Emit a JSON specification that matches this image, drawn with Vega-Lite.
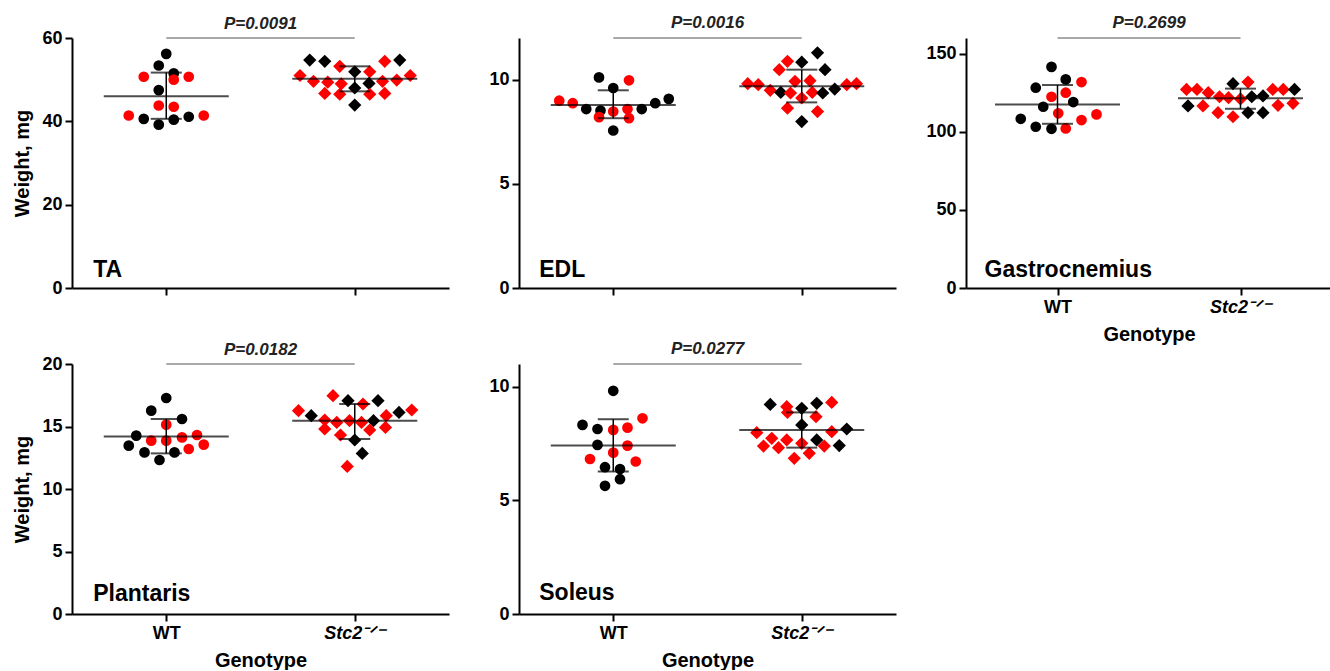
{
"$schema": "https://vega.github.io/schema/vega-lite/v6.json",
"padding": {"left": 12, "top": 13, "right": 0, "bottom": 0},
"background": "white",
"config": {
  "view": {"stroke": null},
  "font": "Liberation Sans",
  "axis": {"domainColor": "black", "domainWidth": 2, "tickColor": "black", "tickWidth": 2, "tickSize": 7, "labelFont": "Liberation Sans", "labelFontSize": 18, "labelFontWeight": "bold", "labelColor": "black", "labelPadding": 3, "titleFont": "Liberation Sans", "titleFontSize": 20, "titleFontWeight": "bold", "titleColor": "black", "grid": false, "labelAngle": 0},
  "title": {"font": "Liberation Sans", "fontSize": 17, "fontWeight": "bold", "fontStyle": "italic", "color": "#222222", "anchor": "middle", "frame": "group", "baseline": "alphabetic", "offset": 4}
},
"datasets": {
 "pts": [
  {"m":"TA","g":"WT","sex":"M","w":56.2,"col":0},
  {"m":"TA","g":"WT","sex":"M","w":53.4,"col":-1},
  {"m":"TA","g":"WT","sex":"F","w":50.7,"col":-3},
  {"m":"TA","g":"WT","sex":"M","w":51.5,"col":1},
  {"m":"TA","g":"WT","sex":"F","w":50.0,"col":1},
  {"m":"TA","g":"WT","sex":"F","w":50.7,"col":3},
  {"m":"TA","g":"WT","sex":"M","w":47.5,"col":-1},
  {"m":"TA","g":"WT","sex":"F","w":43.8,"col":-1},
  {"m":"TA","g":"WT","sex":"F","w":43.5,"col":1},
  {"m":"TA","g":"WT","sex":"F","w":41.4,"col":-5},
  {"m":"TA","g":"WT","sex":"F","w":41.4,"col":5},
  {"m":"TA","g":"WT","sex":"M","w":40.6,"col":-3},
  {"m":"TA","g":"WT","sex":"M","w":40.4,"col":1},
  {"m":"TA","g":"WT","sex":"M","w":41.1,"col":3},
  {"m":"TA","g":"WT","sex":"M","w":39.2,"col":-1},
  {"m":"TA","g":"Stc2","sex":"M","w":54.7,"col":-6},
  {"m":"TA","g":"Stc2","sex":"M","w":54.4,"col":-4},
  {"m":"TA","g":"Stc2","sex":"F","w":54.4,"col":4},
  {"m":"TA","g":"Stc2","sex":"M","w":54.7,"col":6},
  {"m":"TA","g":"Stc2","sex":"F","w":53.2,"col":-2},
  {"m":"TA","g":"Stc2","sex":"M","w":51.9,"col":0},
  {"m":"TA","g":"Stc2","sex":"F","w":51.9,"col":2},
  {"m":"TA","g":"Stc2","sex":"F","w":51.0,"col":-7.3},
  {"m":"TA","g":"Stc2","sex":"F","w":51.0,"col":7.4},
  {"m":"TA","g":"Stc2","sex":"F","w":49.6,"col":-5.5},
  {"m":"TA","g":"Stc2","sex":"F","w":49.4,"col":-3.6},
  {"m":"TA","g":"Stc2","sex":"F","w":49.0,"col":-1.8},
  {"m":"TA","g":"Stc2","sex":"M","w":49.1,"col":1.9},
  {"m":"TA","g":"Stc2","sex":"F","w":49.6,"col":3.7},
  {"m":"TA","g":"Stc2","sex":"F","w":49.9,"col":5.6},
  {"m":"TA","g":"Stc2","sex":"M","w":48.0,"col":0},
  {"m":"TA","g":"Stc2","sex":"F","w":46.7,"col":-4},
  {"m":"TA","g":"Stc2","sex":"F","w":46.5,"col":-2},
  {"m":"TA","g":"Stc2","sex":"F","w":46.5,"col":2},
  {"m":"TA","g":"Stc2","sex":"F","w":46.7,"col":4},
  {"m":"TA","g":"Stc2","sex":"M","w":43.9,"col":0},

  {"m":"EDL","g":"WT","sex":"M","w":10.11,"col":-1.9},
  {"m":"EDL","g":"WT","sex":"F","w":9.97,"col":2.1},
  {"m":"EDL","g":"WT","sex":"M","w":9.60,"col":0},
  {"m":"EDL","g":"WT","sex":"F","w":8.99,"col":-7.2},
  {"m":"EDL","g":"WT","sex":"F","w":8.87,"col":-5.4},
  {"m":"EDL","g":"WT","sex":"M","w":9.08,"col":7.4},
  {"m":"EDL","g":"WT","sex":"M","w":8.87,"col":5.6},
  {"m":"EDL","g":"WT","sex":"M","w":8.59,"col":-3.6},
  {"m":"EDL","g":"WT","sex":"M","w":8.52,"col":-1.7},
  {"m":"EDL","g":"WT","sex":"F","w":8.47,"col":0},
  {"m":"EDL","g":"WT","sex":"F","w":8.59,"col":1.9},
  {"m":"EDL","g":"WT","sex":"M","w":8.59,"col":3.8},
  {"m":"EDL","g":"WT","sex":"F","w":8.20,"col":-1.9},
  {"m":"EDL","g":"WT","sex":"F","w":8.15,"col":2.1},
  {"m":"EDL","g":"WT","sex":"M","w":7.56,"col":0},
  {"m":"EDL","g":"Stc2","sex":"M","w":11.29,"col":2.1},
  {"m":"EDL","g":"Stc2","sex":"F","w":10.88,"col":-1.9},
  {"m":"EDL","g":"Stc2","sex":"M","w":10.84,"col":0},
  {"m":"EDL","g":"Stc2","sex":"F","w":10.48,"col":-3},
  {"m":"EDL","g":"Stc2","sex":"M","w":10.48,"col":3.1},
  {"m":"EDL","g":"Stc2","sex":"F","w":9.92,"col":-0.9},
  {"m":"EDL","g":"Stc2","sex":"F","w":9.95,"col":1.1},
  {"m":"EDL","g":"Stc2","sex":"F","w":9.81,"col":-7.2},
  {"m":"EDL","g":"Stc2","sex":"F","w":9.76,"col":-5.8},
  {"m":"EDL","g":"Stc2","sex":"F","w":9.49,"col":-4.2},
  {"m":"EDL","g":"Stc2","sex":"M","w":9.39,"col":-2.8},
  {"m":"EDL","g":"Stc2","sex":"F","w":9.36,"col":-1.5},
  {"m":"EDL","g":"Stc2","sex":"F","w":9.12,"col":0},
  {"m":"EDL","g":"Stc2","sex":"F","w":9.39,"col":1.4},
  {"m":"EDL","g":"Stc2","sex":"M","w":9.36,"col":2.8},
  {"m":"EDL","g":"Stc2","sex":"M","w":9.55,"col":4.4},
  {"m":"EDL","g":"Stc2","sex":"F","w":9.76,"col":6},
  {"m":"EDL","g":"Stc2","sex":"F","w":9.81,"col":7.3},
  {"m":"EDL","g":"Stc2","sex":"F","w":8.63,"col":-1.9},
  {"m":"EDL","g":"Stc2","sex":"F","w":8.47,"col":2.1},
  {"m":"EDL","g":"Stc2","sex":"M","w":7.99,"col":0},

  {"m":"Gas","g":"WT","sex":"M","w":141.5,"col":-0.8},
  {"m":"Gas","g":"WT","sex":"M","w":133.5,"col":1.1},
  {"m":"Gas","g":"WT","sex":"F","w":131.8,"col":3.2},
  {"m":"Gas","g":"WT","sex":"M","w":128.2,"col":-2.9},
  {"m":"Gas","g":"WT","sex":"F","w":125.0,"col":1.1},
  {"m":"Gas","g":"WT","sex":"F","w":122.4,"col":-0.8},
  {"m":"Gas","g":"WT","sex":"M","w":116.0,"col":-1.9},
  {"m":"Gas","g":"WT","sex":"M","w":119.0,"col":2.1},
  {"m":"Gas","g":"WT","sex":"F","w":111.8,"col":0.1},
  {"m":"Gas","g":"WT","sex":"F","w":111.1,"col":5.2},
  {"m":"Gas","g":"WT","sex":"M","w":108.3,"col":-4.9},
  {"m":"Gas","g":"WT","sex":"F","w":107.5,"col":3.2},
  {"m":"Gas","g":"WT","sex":"M","w":103.2,"col":-2.9},
  {"m":"Gas","g":"WT","sex":"M","w":101.9,"col":-0.8},
  {"m":"Gas","g":"WT","sex":"F","w":102.1,"col":1.1},
  {"m":"Gas","g":"Stc2","sex":"M","w":130.8,"col":-1},
  {"m":"Gas","g":"Stc2","sex":"F","w":131.8,"col":1},
  {"m":"Gas","g":"Stc2","sex":"F","w":127.1,"col":-7.2},
  {"m":"Gas","g":"Stc2","sex":"F","w":127.1,"col":-5.8},
  {"m":"Gas","g":"Stc2","sex":"F","w":125.0,"col":-4.3},
  {"m":"Gas","g":"Stc2","sex":"F","w":122.4,"col":-2.8},
  {"m":"Gas","g":"Stc2","sex":"F","w":121.8,"col":-1.6},
  {"m":"Gas","g":"Stc2","sex":"F","w":121.0,"col":0},
  {"m":"Gas","g":"Stc2","sex":"M","w":122.4,"col":1.5},
  {"m":"Gas","g":"Stc2","sex":"M","w":122.9,"col":3},
  {"m":"Gas","g":"Stc2","sex":"F","w":127.1,"col":4.3},
  {"m":"Gas","g":"Stc2","sex":"F","w":127.1,"col":5.7},
  {"m":"Gas","g":"Stc2","sex":"M","w":127.1,"col":7.2},
  {"m":"Gas","g":"Stc2","sex":"M","w":116.5,"col":-7},
  {"m":"Gas","g":"Stc2","sex":"F","w":116.5,"col":-5},
  {"m":"Gas","g":"Stc2","sex":"F","w":112.2,"col":-3},
  {"m":"Gas","g":"Stc2","sex":"F","w":109.6,"col":-1},
  {"m":"Gas","g":"Stc2","sex":"M","w":112.2,"col":1},
  {"m":"Gas","g":"Stc2","sex":"M","w":112.2,"col":3},
  {"m":"Gas","g":"Stc2","sex":"F","w":116.9,"col":5},
  {"m":"Gas","g":"Stc2","sex":"F","w":118.2,"col":7},

  {"m":"PL","g":"WT","sex":"M","w":17.28,"col":0},
  {"m":"PL","g":"WT","sex":"M","w":16.27,"col":-2},
  {"m":"PL","g":"WT","sex":"M","w":15.6,"col":2.1},
  {"m":"PL","g":"WT","sex":"F","w":15.15,"col":0},
  {"m":"PL","g":"WT","sex":"M","w":14.27,"col":-4},
  {"m":"PL","g":"WT","sex":"F","w":13.87,"col":-2},
  {"m":"PL","g":"WT","sex":"F","w":13.87,"col":0},
  {"m":"PL","g":"WT","sex":"F","w":14.13,"col":2.1},
  {"m":"PL","g":"WT","sex":"F","w":14.32,"col":4.1},
  {"m":"PL","g":"WT","sex":"M","w":13.47,"col":-5},
  {"m":"PL","g":"WT","sex":"F","w":13.55,"col":5},
  {"m":"PL","g":"WT","sex":"F","w":13.2,"col":3},
  {"m":"PL","g":"WT","sex":"M","w":12.93,"col":-2.9},
  {"m":"PL","g":"WT","sex":"M","w":12.93,"col":1.1},
  {"m":"PL","g":"WT","sex":"M","w":12.32,"col":-0.9},
  {"m":"PL","g":"Stc2","sex":"F","w":17.47,"col":-2.9},
  {"m":"PL","g":"Stc2","sex":"M","w":17.07,"col":-0.9},
  {"m":"PL","g":"Stc2","sex":"M","w":17.07,"col":3.1},
  {"m":"PL","g":"Stc2","sex":"F","w":16.8,"col":1.1},
  {"m":"PL","g":"Stc2","sex":"F","w":16.27,"col":-7.5},
  {"m":"PL","g":"Stc2","sex":"F","w":16.32,"col":7.6},
  {"m":"PL","g":"Stc2","sex":"M","w":15.87,"col":-5.8},
  {"m":"PL","g":"Stc2","sex":"M","w":16.13,"col":5.9},
  {"m":"PL","g":"Stc2","sex":"F","w":15.87,"col":4.2},
  {"m":"PL","g":"Stc2","sex":"F","w":15.52,"col":-4},
  {"m":"PL","g":"Stc2","sex":"F","w":15.33,"col":-2.4},
  {"m":"PL","g":"Stc2","sex":"F","w":15.47,"col":-0.7},
  {"m":"PL","g":"Stc2","sex":"F","w":15.33,"col":0.9},
  {"m":"PL","g":"Stc2","sex":"M","w":15.47,"col":2.5},
  {"m":"PL","g":"Stc2","sex":"F","w":14.8,"col":-4},
  {"m":"PL","g":"Stc2","sex":"F","w":14.32,"col":-1.9},
  {"m":"PL","g":"Stc2","sex":"F","w":14.72,"col":2},
  {"m":"PL","g":"Stc2","sex":"F","w":14.93,"col":4.1},
  {"m":"PL","g":"Stc2","sex":"M","w":13.92,"col":0},
  {"m":"PL","g":"Stc2","sex":"M","w":12.85,"col":1},
  {"m":"PL","g":"Stc2","sex":"F","w":11.81,"col":-1},

  {"m":"SOL","g":"WT","sex":"M","w":9.82,"col":0},
  {"m":"SOL","g":"WT","sex":"M","w":8.32,"col":-4.1},
  {"m":"SOL","g":"WT","sex":"F","w":8.61,"col":3.9},
  {"m":"SOL","g":"WT","sex":"M","w":8.14,"col":-2.1},
  {"m":"SOL","g":"WT","sex":"F","w":8.10,"col":0},
  {"m":"SOL","g":"WT","sex":"F","w":8.2,"col":1.9},
  {"m":"SOL","g":"WT","sex":"M","w":7.44,"col":-2.1},
  {"m":"SOL","g":"WT","sex":"F","w":7.41,"col":1.9},
  {"m":"SOL","g":"WT","sex":"F","w":7.10,"col":0},
  {"m":"SOL","g":"WT","sex":"F","w":6.82,"col":-3.1},
  {"m":"SOL","g":"WT","sex":"F","w":6.71,"col":3},
  {"m":"SOL","g":"WT","sex":"M","w":6.46,"col":-1.1},
  {"m":"SOL","g":"WT","sex":"M","w":6.38,"col":0.9},
  {"m":"SOL","g":"WT","sex":"M","w":5.93,"col":0.9},
  {"m":"SOL","g":"WT","sex":"M","w":5.64,"col":-1.1},
  {"m":"SOL","g":"Stc2","sex":"M","w":9.22,"col":-4.2},
  {"m":"SOL","g":"Stc2","sex":"F","w":9.12,"col":-2},
  {"m":"SOL","g":"Stc2","sex":"M","w":9.05,"col":0},
  {"m":"SOL","g":"Stc2","sex":"M","w":9.27,"col":2},
  {"m":"SOL","g":"Stc2","sex":"F","w":9.31,"col":4},
  {"m":"SOL","g":"Stc2","sex":"F","w":8.87,"col":-1.9},
  {"m":"SOL","g":"Stc2","sex":"F","w":8.68,"col":1.9},
  {"m":"SOL","g":"Stc2","sex":"M","w":8.32,"col":0},
  {"m":"SOL","g":"Stc2","sex":"F","w":7.98,"col":-6},
  {"m":"SOL","g":"Stc2","sex":"F","w":8.02,"col":4},
  {"m":"SOL","g":"Stc2","sex":"M","w":8.14,"col":6},
  {"m":"SOL","g":"Stc2","sex":"F","w":7.73,"col":-4},
  {"m":"SOL","g":"Stc2","sex":"F","w":7.66,"col":-2},
  {"m":"SOL","g":"Stc2","sex":"F","w":7.51,"col":0},
  {"m":"SOL","g":"Stc2","sex":"M","w":7.66,"col":2},
  {"m":"SOL","g":"Stc2","sex":"F","w":7.39,"col":-5.1},
  {"m":"SOL","g":"Stc2","sex":"F","w":7.32,"col":-3.1},
  {"m":"SOL","g":"Stc2","sex":"F","w":7.39,"col":3},
  {"m":"SOL","g":"Stc2","sex":"M","w":7.41,"col":5},
  {"m":"SOL","g":"Stc2","sex":"F","w":7.07,"col":1},
  {"m":"SOL","g":"Stc2","sex":"F","w":6.85,"col":-1}
 ],
 "sum": [
  {"m":"TA","g":"WT","mean":46.0,"lo":40.6,"hi":51.7},
  {"m":"TA","g":"Stc2","mean":50.2,"lo":47.2,"hi":53.2},
  {"m":"EDL","g":"WT","mean":8.79,"lo":8.15,"hi":9.49},
  {"m":"EDL","g":"Stc2","mean":9.68,"lo":8.91,"hi":10.48},
  {"m":"Gas","g":"WT","mean":117.5,"lo":105.1,"hi":129.9},
  {"m":"Gas","g":"Stc2","mean":121.4,"lo":114.7,"hi":127.6},
  {"m":"PL","g":"WT","mean":14.21,"lo":12.85,"hi":15.6},
  {"m":"PL","g":"Stc2","mean":15.47,"lo":14.0,"hi":16.8},
  {"m":"SOL","g":"WT","mean":7.41,"lo":6.27,"hi":8.57},
  {"m":"SOL","g":"Stc2","mean":8.10,"lo":7.32,"hi":8.87}
 ],
 "panels": [
  {"m":"TA","label":"TA"},
  {"m":"EDL","label":"EDL"},
  {"m":"Gas","label":"Gastrocnemius"},
  {"m":"PL","label":"Plantaris"},
  {"m":"SOL","label":"Soleus"}
 ]
},
"bounds": "flush",
"columns": 3,
"spacing": {"row": 76, "column": 70},
"concat": [
  {"width": 377, "height": 250, "title": {"text": "P=0.0091", "offset": -4},
   "layer": [
    {"data": {"name": "pts"}, "transform": [{"filter": "datum.m == 'TA'"}],
     "mark": {"type": "point", "filled": true, "opacity": 1, "strokeWidth": 0},
     "encoding": {
      "x": {"field": "g", "type": "nominal", "scale": {"type": "point", "domain": ["WT", "Stc2"], "padding": 0.5}, "axis": {"labels": false, "title": null}},
      "xOffset": {"field": "col", "type": "quantitative", "scale": {"domain": [-8, 8], "range": [-60, 60]}},
      "y": {"field": "w", "type": "quantitative", "scale": {"domain": [0, 60], "nice": false}, "axis": {"values": [0, 20, 40, 60], "title": "Weight, mg", "minExtent": 32, "maxExtent": 32, "titlePadding": 8}},
      "color": {"field": "sex", "type": "nominal", "scale": {"domain": ["F", "M"], "range": ["#ff0000", "#000000"]}, "legend": null},
      "shape": {"field": "g", "type": "nominal", "scale": {"domain": ["WT", "Stc2"], "range": ["circle", "diamond"]}, "legend": null},
      "size": {"field": "g", "type": "ordinal", "scale": {"domain": ["WT", "Stc2"], "range": [115, 175]}, "legend": null}
     }},
    {"data": {"name": "sum"}, "transform": [{"filter": "datum.m == 'TA'"}], "mark": {"type": "rule", "color": "black", "strokeWidth": 1.5},
     "encoding": {"x": {"field": "g", "type": "nominal"}, "y": {"field": "lo", "type": "quantitative"}, "y2": {"field": "hi"}}},
    {"data": {"name": "sum"}, "transform": [{"filter": "datum.m == 'TA'"}], "mark": {"type": "tick", "color": "black", "size": 31, "thickness": 2},
     "encoding": {"x": {"field": "g", "type": "nominal"}, "y": {"field": "lo", "type": "quantitative"}}},
    {"data": {"name": "sum"}, "transform": [{"filter": "datum.m == 'TA'"}], "mark": {"type": "tick", "color": "black", "size": 31, "thickness": 2},
     "encoding": {"x": {"field": "g", "type": "nominal"}, "y": {"field": "hi", "type": "quantitative"}}},
    {"data": {"name": "sum"}, "transform": [{"filter": "datum.m == 'TA'"}], "mark": {"type": "tick", "color": "black", "size": 125, "thickness": 2},
     "encoding": {"x": {"field": "g", "type": "nominal"}, "y": {"field": "mean", "type": "quantitative"}}},
    {"data": {"name": "sum"}, "transform": [{"filter": "datum.m == 'TA'"}], "mark": {"type": "line", "color": "#555555", "strokeWidth": 1.2},
     "encoding": {"x": {"field": "g", "type": "nominal"}, "y": {"datum": 60}}},
    {"data": {"name": "panels"}, "transform": [{"filter": "datum.m == 'TA'"}], "mark": {"type": "text", "align": "left", "baseline": "alphabetic", "dx": -73, "dy": -11, "fontSize": 23, "fontWeight": "bold", "color": "black"},
     "encoding": {"x": {"datum": "WT"}, "y": {"datum": 0}, "text": {"field": "label"}}}
   ]},
  {"width": 377, "height": 250, "title": {"text": "P=0.0016", "offset": 4},
   "layer": [
    {"data": {"name": "pts"}, "transform": [{"filter": "datum.m == 'EDL'"}],
     "mark": {"type": "point", "filled": true, "opacity": 1, "strokeWidth": 0},
     "encoding": {
      "x": {"field": "g", "type": "nominal", "scale": {"type": "point", "domain": ["WT", "Stc2"], "padding": 0.5}, "axis": {"labels": false, "title": null}},
      "xOffset": {"field": "col", "type": "quantitative", "scale": {"domain": [-8, 8], "range": [-60, 60]}},
      "y": {"field": "w", "type": "quantitative", "scale": {"domain": [0, 12], "nice": false}, "axis": {"values": [0, 5, 10], "title": null}},
      "color": {"field": "sex", "type": "nominal", "scale": {"domain": ["F", "M"], "range": ["#ff0000", "#000000"]}, "legend": null},
      "shape": {"field": "g", "type": "nominal", "scale": {"domain": ["WT", "Stc2"], "range": ["circle", "diamond"]}, "legend": null},
      "size": {"field": "g", "type": "ordinal", "scale": {"domain": ["WT", "Stc2"], "range": [115, 175]}, "legend": null}
     }},
    {"data": {"name": "sum"}, "transform": [{"filter": "datum.m == 'EDL'"}], "mark": {"type": "rule", "color": "black", "strokeWidth": 1.5},
     "encoding": {"x": {"field": "g", "type": "nominal"}, "y": {"field": "lo", "type": "quantitative"}, "y2": {"field": "hi"}}},
    {"data": {"name": "sum"}, "transform": [{"filter": "datum.m == 'EDL'"}], "mark": {"type": "tick", "color": "black", "size": 31, "thickness": 2},
     "encoding": {"x": {"field": "g", "type": "nominal"}, "y": {"field": "lo", "type": "quantitative"}}},
    {"data": {"name": "sum"}, "transform": [{"filter": "datum.m == 'EDL'"}], "mark": {"type": "tick", "color": "black", "size": 31, "thickness": 2},
     "encoding": {"x": {"field": "g", "type": "nominal"}, "y": {"field": "hi", "type": "quantitative"}}},
    {"data": {"name": "sum"}, "transform": [{"filter": "datum.m == 'EDL'"}], "mark": {"type": "tick", "color": "black", "size": 125, "thickness": 2},
     "encoding": {"x": {"field": "g", "type": "nominal"}, "y": {"field": "mean", "type": "quantitative"}}},
    {"data": {"name": "sum"}, "transform": [{"filter": "datum.m == 'EDL'"}], "mark": {"type": "line", "color": "#555555", "strokeWidth": 1.2},
     "encoding": {"x": {"field": "g", "type": "nominal"}, "y": {"datum": 12}}},
    {"data": {"name": "panels"}, "transform": [{"filter": "datum.m == 'EDL'"}], "mark": {"type": "text", "align": "left", "baseline": "alphabetic", "dx": -74, "dy": -11, "fontSize": 23, "fontWeight": "bold", "color": "black"},
     "encoding": {"x": {"datum": "WT"}, "y": {"datum": 0}, "text": {"field": "label"}}}
   ]},
  {"width": 366, "height": 250, "title": {"text": "P=0.2699", "offset": 4},
   "layer": [
    {"data": {"name": "pts"}, "transform": [{"filter": "datum.m == 'Gas'"}],
     "mark": {"type": "point", "filled": true, "opacity": 1, "strokeWidth": 0},
     "encoding": {
      "x": {"field": "g", "type": "nominal", "scale": {"type": "point", "domain": ["WT", "Stc2"], "padding": 0.5}, "axis": {"title": "Genotype", "titleFontSize": 20, "titlePadding": 8, "labelExpr": "datum.value == 'WT' ? 'WT' : 'Stc2⁻ᐟ⁻'", "labelFontStyle": {"condition": {"test": "datum.value == 'Stc2'", "value": "italic"}, "value": "normal"}}},
      "xOffset": {"field": "col", "type": "quantitative", "scale": {"domain": [-8, 8], "range": [-60, 60]}},
      "y": {"field": "w", "type": "quantitative", "scale": {"domain": [0, 160], "nice": false}, "axis": {"values": [0, 50, 100, 150], "title": null}},
      "color": {"field": "sex", "type": "nominal", "scale": {"domain": ["F", "M"], "range": ["#ff0000", "#000000"]}, "legend": null},
      "shape": {"field": "g", "type": "nominal", "scale": {"domain": ["WT", "Stc2"], "range": ["circle", "diamond"]}, "legend": null},
      "size": {"field": "g", "type": "ordinal", "scale": {"domain": ["WT", "Stc2"], "range": [115, 175]}, "legend": null}
     }},
    {"data": {"name": "sum"}, "transform": [{"filter": "datum.m == 'Gas'"}], "mark": {"type": "rule", "color": "black", "strokeWidth": 1.5},
     "encoding": {"x": {"field": "g", "type": "nominal"}, "y": {"field": "lo", "type": "quantitative"}, "y2": {"field": "hi"}}},
    {"data": {"name": "sum"}, "transform": [{"filter": "datum.m == 'Gas'"}], "mark": {"type": "tick", "color": "black", "size": 31, "thickness": 2},
     "encoding": {"x": {"field": "g", "type": "nominal"}, "y": {"field": "lo", "type": "quantitative"}}},
    {"data": {"name": "sum"}, "transform": [{"filter": "datum.m == 'Gas'"}], "mark": {"type": "tick", "color": "black", "size": 31, "thickness": 2},
     "encoding": {"x": {"field": "g", "type": "nominal"}, "y": {"field": "hi", "type": "quantitative"}}},
    {"data": {"name": "sum"}, "transform": [{"filter": "datum.m == 'Gas'"}], "mark": {"type": "tick", "color": "black", "size": 125, "thickness": 2},
     "encoding": {"x": {"field": "g", "type": "nominal"}, "y": {"field": "mean", "type": "quantitative"}}},
    {"data": {"name": "sum"}, "transform": [{"filter": "datum.m == 'Gas'"}], "mark": {"type": "line", "color": "#555555", "strokeWidth": 1.2},
     "encoding": {"x": {"field": "g", "type": "nominal"}, "y": {"datum": 160}}},
    {"data": {"name": "panels"}, "transform": [{"filter": "datum.m == 'Gas'"}], "mark": {"type": "text", "align": "left", "baseline": "alphabetic", "dx": -73, "dy": -11, "fontSize": 23, "fontWeight": "bold", "color": "black"},
     "encoding": {"x": {"datum": "WT"}, "y": {"datum": 0}, "text": {"field": "label"}}}
   ]},
  {"width": 377, "height": 250, "title": {"text": "P=0.0182", "offset": -4},
   "layer": [
    {"data": {"name": "pts"}, "transform": [{"filter": "datum.m == 'PL'"}],
     "mark": {"type": "point", "filled": true, "opacity": 1, "strokeWidth": 0},
     "encoding": {
      "x": {"field": "g", "type": "nominal", "scale": {"type": "point", "domain": ["WT", "Stc2"], "padding": 0.5}, "axis": {"title": "Genotype", "titleFontSize": 20, "titlePadding": 8, "labelExpr": "datum.value == 'WT' ? 'WT' : 'Stc2⁻ᐟ⁻'", "labelFontStyle": {"condition": {"test": "datum.value == 'Stc2'", "value": "italic"}, "value": "normal"}}},
      "xOffset": {"field": "col", "type": "quantitative", "scale": {"domain": [-8, 8], "range": [-60, 60]}},
      "y": {"field": "w", "type": "quantitative", "scale": {"domain": [0, 20], "nice": false}, "axis": {"values": [0, 5, 10, 15, 20], "title": "Weight, mg", "minExtent": 32, "maxExtent": 32, "titlePadding": 8}},
      "color": {"field": "sex", "type": "nominal", "scale": {"domain": ["F", "M"], "range": ["#ff0000", "#000000"]}, "legend": null},
      "shape": {"field": "g", "type": "nominal", "scale": {"domain": ["WT", "Stc2"], "range": ["circle", "diamond"]}, "legend": null},
      "size": {"field": "g", "type": "ordinal", "scale": {"domain": ["WT", "Stc2"], "range": [115, 175]}, "legend": null}
     }},
    {"data": {"name": "sum"}, "transform": [{"filter": "datum.m == 'PL'"}], "mark": {"type": "rule", "color": "black", "strokeWidth": 1.5},
     "encoding": {"x": {"field": "g", "type": "nominal"}, "y": {"field": "lo", "type": "quantitative"}, "y2": {"field": "hi"}}},
    {"data": {"name": "sum"}, "transform": [{"filter": "datum.m == 'PL'"}], "mark": {"type": "tick", "color": "black", "size": 31, "thickness": 2},
     "encoding": {"x": {"field": "g", "type": "nominal"}, "y": {"field": "lo", "type": "quantitative"}}},
    {"data": {"name": "sum"}, "transform": [{"filter": "datum.m == 'PL'"}], "mark": {"type": "tick", "color": "black", "size": 31, "thickness": 2},
     "encoding": {"x": {"field": "g", "type": "nominal"}, "y": {"field": "hi", "type": "quantitative"}}},
    {"data": {"name": "sum"}, "transform": [{"filter": "datum.m == 'PL'"}], "mark": {"type": "tick", "color": "black", "size": 125, "thickness": 2},
     "encoding": {"x": {"field": "g", "type": "nominal"}, "y": {"field": "mean", "type": "quantitative"}}},
    {"data": {"name": "sum"}, "transform": [{"filter": "datum.m == 'PL'"}], "mark": {"type": "line", "color": "#555555", "strokeWidth": 1.2},
     "encoding": {"x": {"field": "g", "type": "nominal"}, "y": {"datum": 20}}},
    {"data": {"name": "panels"}, "transform": [{"filter": "datum.m == 'PL'"}], "mark": {"type": "text", "align": "left", "baseline": "alphabetic", "dx": -73, "dy": -13, "fontSize": 23, "fontWeight": "bold", "color": "black"},
     "encoding": {"x": {"datum": "WT"}, "y": {"datum": 0}, "text": {"field": "label"}}}
   ]},
  {"width": 377, "height": 250, "title": {"text": "P=0.0277", "offset": 4},
   "layer": [
    {"data": {"name": "pts"}, "transform": [{"filter": "datum.m == 'SOL'"}],
     "mark": {"type": "point", "filled": true, "opacity": 1, "strokeWidth": 0},
     "encoding": {
      "x": {"field": "g", "type": "nominal", "scale": {"type": "point", "domain": ["WT", "Stc2"], "padding": 0.5}, "axis": {"title": "Genotype", "titleFontSize": 20, "titlePadding": 8, "labelExpr": "datum.value == 'WT' ? 'WT' : 'Stc2⁻ᐟ⁻'", "labelFontStyle": {"condition": {"test": "datum.value == 'Stc2'", "value": "italic"}, "value": "normal"}}},
      "xOffset": {"field": "col", "type": "quantitative", "scale": {"domain": [-8, 8], "range": [-60, 60]}},
      "y": {"field": "w", "type": "quantitative", "scale": {"domain": [0, 11], "nice": false}, "axis": {"values": [0, 5, 10], "title": null}},
      "color": {"field": "sex", "type": "nominal", "scale": {"domain": ["F", "M"], "range": ["#ff0000", "#000000"]}, "legend": null},
      "shape": {"field": "g", "type": "nominal", "scale": {"domain": ["WT", "Stc2"], "range": ["circle", "diamond"]}, "legend": null},
      "size": {"field": "g", "type": "ordinal", "scale": {"domain": ["WT", "Stc2"], "range": [115, 175]}, "legend": null}
     }},
    {"data": {"name": "sum"}, "transform": [{"filter": "datum.m == 'SOL'"}], "mark": {"type": "rule", "color": "black", "strokeWidth": 1.5},
     "encoding": {"x": {"field": "g", "type": "nominal"}, "y": {"field": "lo", "type": "quantitative"}, "y2": {"field": "hi"}}},
    {"data": {"name": "sum"}, "transform": [{"filter": "datum.m == 'SOL'"}], "mark": {"type": "tick", "color": "black", "size": 31, "thickness": 2},
     "encoding": {"x": {"field": "g", "type": "nominal"}, "y": {"field": "lo", "type": "quantitative"}}},
    {"data": {"name": "sum"}, "transform": [{"filter": "datum.m == 'SOL'"}], "mark": {"type": "tick", "color": "black", "size": 31, "thickness": 2},
     "encoding": {"x": {"field": "g", "type": "nominal"}, "y": {"field": "hi", "type": "quantitative"}}},
    {"data": {"name": "sum"}, "transform": [{"filter": "datum.m == 'SOL'"}], "mark": {"type": "tick", "color": "black", "size": 125, "thickness": 2},
     "encoding": {"x": {"field": "g", "type": "nominal"}, "y": {"field": "mean", "type": "quantitative"}}},
    {"data": {"name": "sum"}, "transform": [{"filter": "datum.m == 'SOL'"}], "mark": {"type": "line", "color": "#555555", "strokeWidth": 1.2},
     "encoding": {"x": {"field": "g", "type": "nominal"}, "y": {"datum": 11}}},
    {"data": {"name": "panels"}, "transform": [{"filter": "datum.m == 'SOL'"}], "mark": {"type": "text", "align": "left", "baseline": "alphabetic", "dx": -74, "dy": -14, "fontSize": 23, "fontWeight": "bold", "color": "black"},
     "encoding": {"x": {"datum": "WT"}, "y": {"datum": 0}, "text": {"field": "label"}}}
   ]}
]
}
